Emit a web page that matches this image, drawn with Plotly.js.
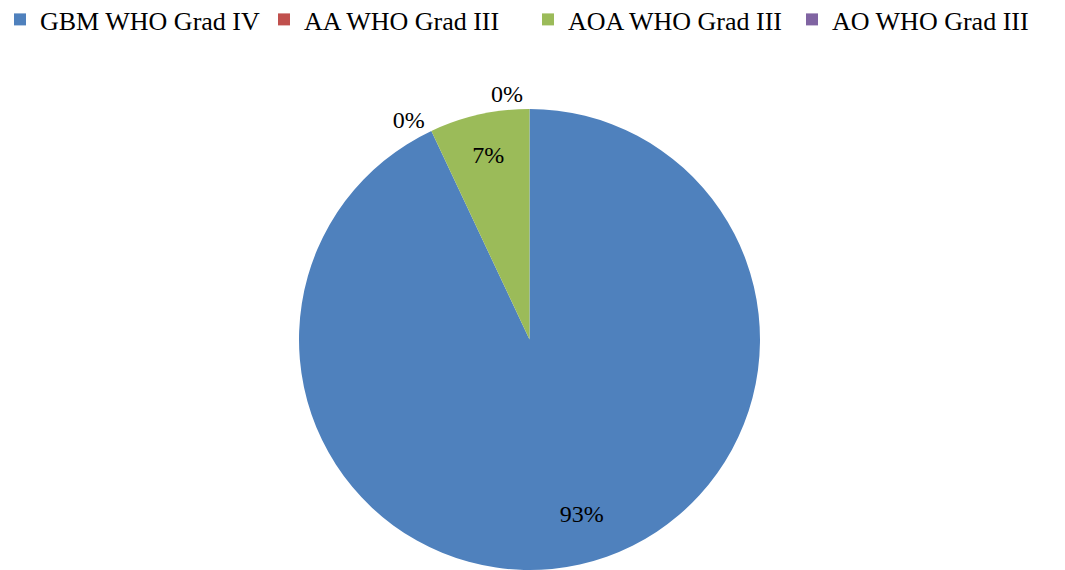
<!DOCTYPE html>
<html>
<head>
<meta charset="utf-8">
<script src="https://cdn.plot.ly/plotly-3.0.1.min.js"></script>
<style>
  html, body { margin: 0; padding: 0; background: #ffffff; }
  #chart { width: 1065px; height: 570px; }
  /* outside percentage labels sit beside the pie without leader lines */
  #chart path.textline { display: none; }
</style>
</head>
<body>
<div id="chart"></div>
<script>
// Tumour grades and their share of cases
const gradeLabels = ['GBM WHO Grad IV', 'AA WHO Grad III', 'AOA WHO Grad III', 'AO WHO Grad III'];
const gradeShares = [93, 0, 7, 0];
const sliceColors = ['#4F81BD', '#C0504D', '#9BBB59', '#8064A2'];
const labelPlacement = ['inside', 'outside', 'inside', 'outside'];

const W = 1065, H = 570;
const serifFamily = 'Liberation Serif';

// the large wedge's label sits low and right inside its wedge
const percentText = gradeShares.map((v, i) =>
  i === 0 ? '&nbsp;<br><br><br><br>' + '&nbsp;'.repeat(9) + '%{percent:.0%}' : '%{percent:.0%}');

const trace = {
  type: 'pie',
  labels: gradeLabels,
  values: gradeShares,
  sort: false,
  direction: 'clockwise',
  rotation: 0,
  marker: { colors: sliceColors, line: { width: 0 } },
  texttemplate: percentText,
  textposition: labelPlacement,
  insidetextorientation: 'horizontal',
  textfont: { family: serifFamily, size: 24, color: '#000000' },
  hoverinfo: 'label+percent',
  domain: { x: [0, 529.5 * 2 / W], y: [0, 461 / H] }
};

const layout = {
  width: W,
  height: H,
  margin: { l: 0, r: 0, t: 0, b: 0, autoexpand: false },
  paper_bgcolor: '#ffffff',
  plot_bgcolor: '#ffffff',
  font: { family: serifFamily, size: 24, color: '#000000' },
  showlegend: true,
  legend: {
    orientation: 'h',
    x: 0,
    xanchor: 'left',
    y: 1 + 4 / H,
    yanchor: 'top',
    font: { family: serifFamily, size: 26, color: '#000000' },
    entrywidth: 219,
    entrywidthmode: 'pixels',
    traceorder: 'normal',
    bgcolor: 'rgba(0,0,0,0)'
  }
};

Plotly.newPlot('chart', [trace], layout, { displayModeBar: false, staticPlot: true });
</script>
</body>
</html>
